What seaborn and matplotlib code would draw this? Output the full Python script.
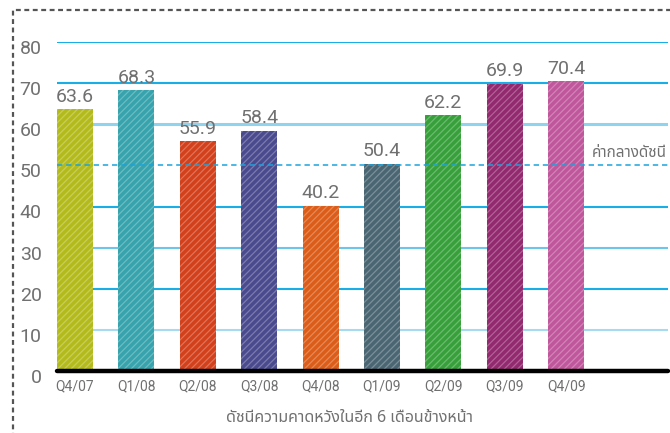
import matplotlib
matplotlib.use("Agg")
import matplotlib.pyplot as plt
from matplotlib.patches import Rectangle
from matplotlib.transforms import ScaledTranslation
import matplotlib.colors as mcolors
import pandas as pd
import seaborn as sns

# Expectation index for the next 6 months, by quarter
quarters = ["Q4/07", "Q1/08", "Q2/08", "Q3/08", "Q4/08", "Q1/09", "Q2/09", "Q3/09", "Q4/09"]
index_values = [63.6, 68.3, 55.9, 58.4, 40.2, 50.4, 62.2, 69.9, 70.4]
bar_colors = ["#b3bb1c", "#37a3ad", "#d3401c", "#4a4a8f", "#dc5d19",
              "#4b6673", "#37a03b", "#93296f", "#c0569b"]
midpoint = 50
y_ticks = [0, 10, 20, 30, 40, 50, 60, 70, 80]
grid_levels = [10, 20, 30, 40, 60, 70, 80]
grid_colors = ["#a6daef", "#19aee6", "#6cc6ea", "#19aee6", "#8fd3ee", "#19aee6", "#19aee6"]
x_title = "ดัชนีความคาดหวังในอีก 6 เดือนข้างหน้า"
midpoint_label = "ค่ากลางดัชนี"

df = pd.DataFrame({"quarter": quarters, "value": index_values})

sns.set_theme(style="white")
plt.rcParams["font.family"] = ["Roboto", "Noto Sans Thai", "DejaVu Sans"]
plt.rcParams["hatch.linewidth"] = 0.9

thai_font = ["Noto Sans Thai", "DejaVu Sans"]
text_gray = "#707070"

fig = plt.figure(figsize=(6.7, 4.33), dpi=100)
ax = fig.add_axes([57 / 670, 1 - 371 / 433, (668 - 57) / 670, (371 - 42) / 433])

sns.barplot(data=df, x="quarter", y="value", hue="quarter", palette=bar_colors,
            legend=False, width=0.586, saturation=1, ax=ax, zorder=3)


def lighten(c, amt):
    r, g, b = mcolors.to_rgb(c)
    return (r + (1 - r) * amt, g + (1 - g) * amt, b + (1 - b) * amt)


for patch, col in zip(ax.patches, bar_colors):
    patch.set_hatch("/////")
    patch.set_edgecolor(lighten(col, 0.27))
    patch.set_linewidth(0)

# value labels above each bar
for patch, v in zip(ax.patches, index_values):
    ax.annotate(f"{v:.1f}", (patch.get_x() + patch.get_width() / 2, v),
                xytext=(0, 2.5), textcoords="offset points", ha="center", va="bottom",
                fontsize=14, color=text_gray, zorder=5)

# horizontal guide lines
for lvl, gc in zip(grid_levels, grid_colors):
    ax.axhline(lvl, color=gc, lw=1.5 if gc != "#8fd3ee" else 2.2, zorder=1)

# index midpoint
ax.axhline(midpoint, color="#1ba3dc", lw=1.1, ls=(0, (3.5, 2.5)), zorder=4)
ax.text((592 - 57) / (668 - 57), midpoint + 1.0, midpoint_label, transform=ax.get_yaxis_transform(),
        ha="left", va="bottom", fontsize=11, color=text_gray, family=thai_font, clip_on=False)

# baseline
ax.axhline(0, color="black", lw=3.2, zorder=6, clip_on=False)

ax.set_xlim(-0.293, 9.66)
ax.set_ylim(0, 80)
ax.set_yticks(y_ticks)
ax.set_yticklabels([str(t) for t in y_ticks])
for side in ["top", "right", "left", "bottom"]:
    ax.spines[side].set_visible(False)
ax.tick_params(axis="y", length=0, pad=11, labelsize=14, labelcolor=text_gray)
ax.tick_params(axis="x", length=0, pad=6, labelsize=10, labelcolor=text_gray)
for lab in ax.get_yticklabels():
    lab.set_transform(lab.get_transform() + ScaledTranslation(0, -5 / 100, fig.dpi_scale_trans))
ax.set_xlabel("")
ax.set_ylabel("")
ax.grid(False)

fig.text(349 / 670, 1 - 418 / 433, x_title, ha="center", va="center",
         fontsize=11.5, color=text_gray, family=thai_font)

# dashed frame around the chart
fig.patches.append(Rectangle((13 / 670, -0.1), 1.2, 1 - 10 / 433 + 0.1, transform=fig.transFigure,
                             fill=False, edgecolor="#555555", lw=1.6, ls=(0, (2.2, 1.6)),
                             figure=fig))

fig.savefig("out.png", dpi=100)
